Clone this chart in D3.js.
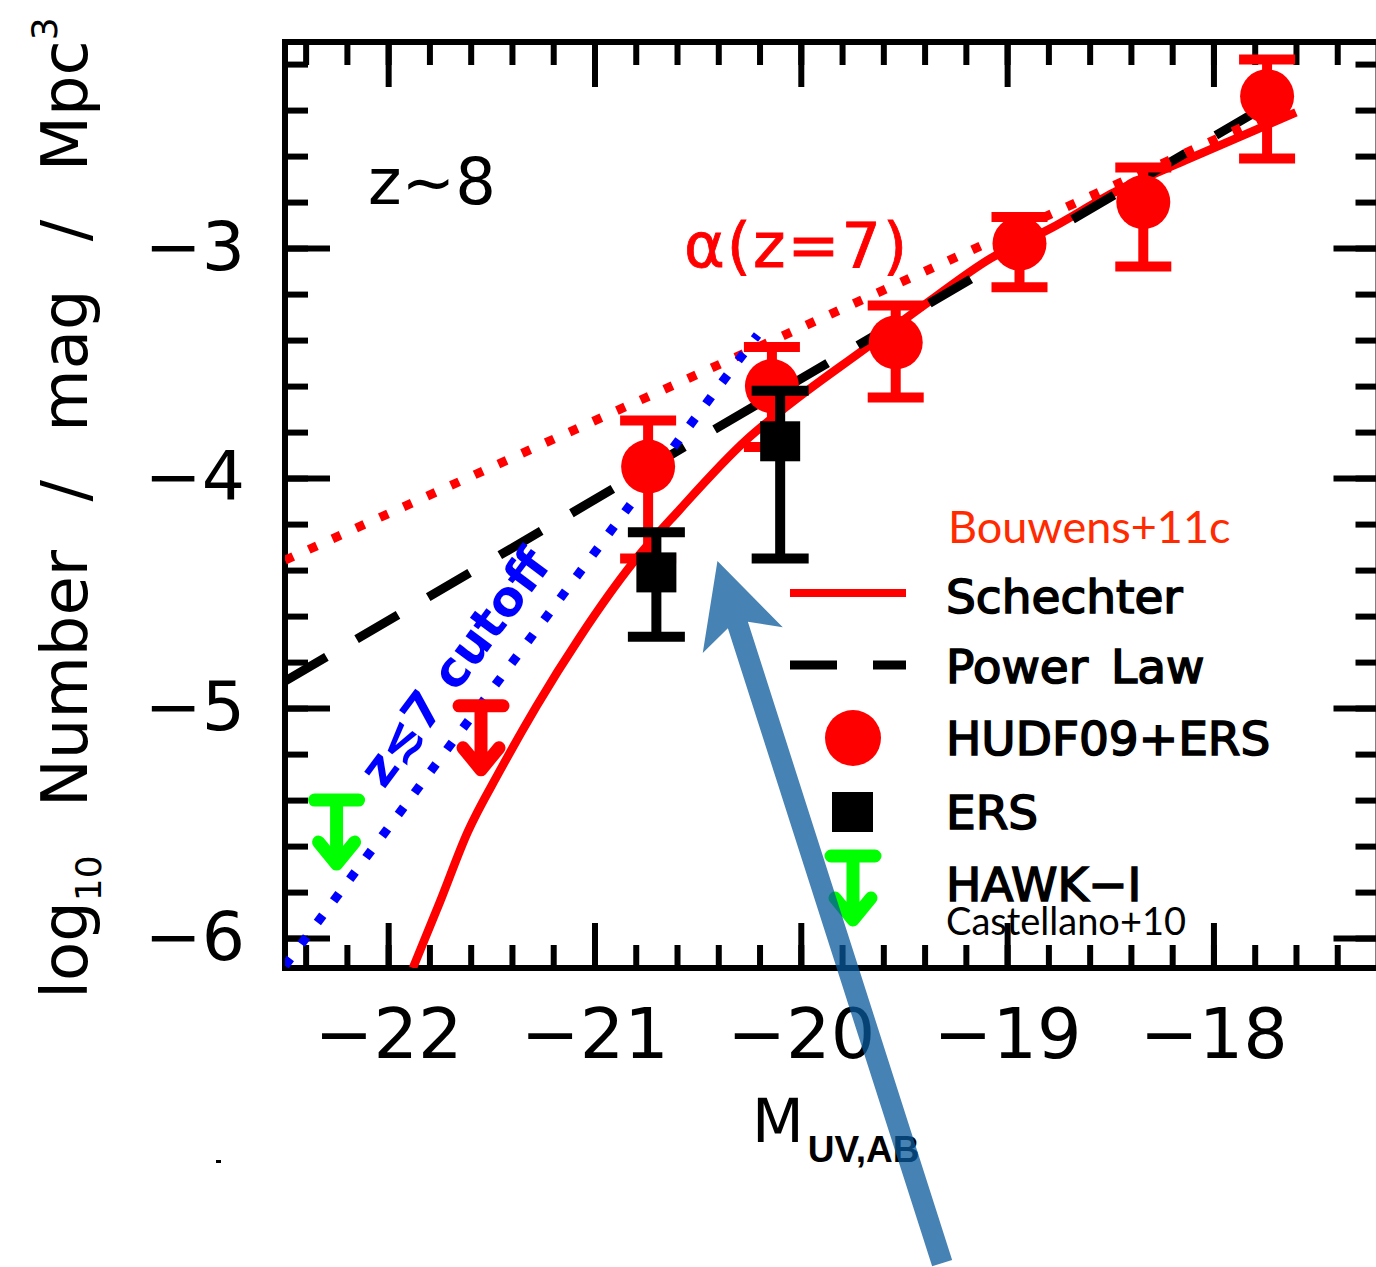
<!DOCTYPE html>
<html lang="en">
<head>
<meta charset="UTF-8">
<title>z~8 UV luminosity function</title>
<style>
  body, html {
      margin: 0;
      padding: 0;
      background-color: #FFF;
  }
  svg { display: block; }
</style>
</head>
<body>
<svg id="chart" width="1376" height="1267" font-family="DejaVu Sans"></svg>

<script src="https://d3js.org/d3.v7.min.js"></script>
<script>
/* global d3 */

// HUDF09+ERS stepwise determinations (log10 phi)
var hudfM    = [-20.74, -20.14, -19.54, -18.94, -18.34, -17.74];
var hudfPhi  = [-3.95, -3.60, -3.41, -2.98, -2.80, -2.34];
var hudfUp   = [-3.75, -3.43, -3.25, -2.865, -2.65, -2.18];
var hudfLow  = [-4.35, -3.865, -3.65, -3.17, -3.08, -2.61];
var hudfLimM   = [-21.55];
var hudfLimPhi = [-4.99];

// ERS only
var ersM   = [-20.70, -20.10];
var ersPhi = [-4.41, -3.84];
var ersUp  = [-4.235, -3.62];
var ersLow = [-4.69, -4.35];

// HAWK-I upper limit (Castellano+10)
var hawkM   = [-22.25];
var hawkPhi = [-5.40];

// fits
var schechterM   = [-21.88, -21.75, -21.615, -21.46, -21.28, -21.07, -20.815, -20.59, -20.265, -20.07, -19.685, -19.39, -19.08, -18.79, -18.465, -18.14, -17.60];
var schechterPhi = [-6.13, -5.845, -5.54, -5.275, -4.99, -4.69, -4.37, -4.14, -3.835, -3.69, -3.435, -3.24, -3.045, -2.915, -2.75, -2.62, -2.41];
var powerM   = [-22.5, -17.65];
var powerPhi = [-4.883, -2.332];
var alpha7M   = [-22.5, -20.1, -17.6];
var alpha7Phi = [-4.357, -3.387, -2.368];
var cutoffM   = [-22.5, -20.21];
var cutoffPhi = [-6.12, -3.378];

// annotation arrow (tip, tail) in data units
var noteArrowM   = [-20.404, -19.315];
var noteArrowPhi = [-4.361, -7.413];

var xTicks = [-22, -21, -20, -19, -18];
var yTicks = [-6, -5, -4, -3];

var svg = d3.select("#chart"),
    pLeft = 285, pRight = 1378.5, pTop = 42, pBottom = 968;

var x = d3.scaleLinear().domain([-22.5, -17.2]).range([pLeft, pRight]),
    y = d3.scaleLinear().domain([-6.13, -2.104]).range([pBottom, pTop]);

var xMinor = d3.range(-112, -86).map(function(i) { return i / 5; }),
    yMinor = d3.range(-30, -10).map(function(i) { return i / 5; });

function zip(a, b) { return a.map(function(d, i) { return [d, b[i]]; }); }

svg.append("defs").append("clipPath").attr("id", "plot")
  .append("rect").attr("x", pLeft).attr("y", pTop)
  .attr("width", pRight - pLeft).attr("height", pBottom - pTop);

// ---- axes (ticks inward on all four sides)
function styleAxis(g) {
  g.select(".domain").remove();
  g.selectAll(".tick line").attr("stroke", "#000").attr("stroke-width", 6);
}

svg.append("g").attr("transform", "translate(0," + pBottom + ")")
  .call(d3.axisBottom(x).tickValues(xMinor).tickSize(-23).tickFormat(""))
  .call(styleAxis);
svg.append("g").attr("transform", "translate(0," + pBottom + ")")
  .call(d3.axisBottom(x).tickValues(xTicks).tickSize(-45).tickPadding(40).tickFormat(d3.format("d")))
  .call(styleAxis)
  .call(function(g) { g.attr("font-size", 70).attr("font-family", "DejaVu Sans"); })
  .selectAll("text").attr("fill", "#000");

svg.append("g").attr("transform", "translate(0," + pTop + ")")
  .call(d3.axisTop(x).tickValues(xMinor).tickSize(-23).tickFormat(""))
  .call(styleAxis);
svg.append("g").attr("transform", "translate(0," + pTop + ")")
  .call(d3.axisTop(x).tickValues(xTicks).tickSize(-45).tickFormat(""))
  .call(styleAxis);

svg.append("g").attr("transform", "translate(" + pLeft + ",0)")
  .call(d3.axisLeft(y).tickValues(yMinor).tickSize(-23).tickFormat(""))
  .call(styleAxis);
svg.append("g").attr("transform", "translate(" + pLeft + ",0)")
  .call(d3.axisLeft(y).tickValues(yTicks).tickSize(-45).tickPadding(40).tickFormat(d3.format("d")))
  .call(styleAxis)
  .call(function(g) { g.attr("font-size", 68).attr("font-family", "DejaVu Sans"); })
  .selectAll("text").attr("fill", "#000");

svg.append("g").attr("transform", "translate(" + pRight + ",0)")
  .call(d3.axisRight(y).tickValues(yMinor).tickSize(-23).tickFormat(""))
  .call(styleAxis);
svg.append("g").attr("transform", "translate(" + pRight + ",0)")
  .call(d3.axisRight(y).tickValues(yTicks).tickSize(-45).tickFormat(""))
  .call(styleAxis);

svg.append("rect")
  .attr("x", pLeft).attr("y", pTop)
  .attr("width", pRight - pLeft).attr("height", pBottom - pTop)
  .attr("fill", "none").attr("stroke", "#000").attr("stroke-width", 6);

// ---- fitted curves
var line = d3.line().x(function(d) { return x(d[0]); }).y(function(d) { return y(d[1]); });
var lines = svg.append("g").attr("clip-path", "url(#plot)");

lines.append("path")
  .attr("d", line.curve(d3.curveMonotoneX)(zip(schechterM, schechterPhi)))
  .attr("fill", "none").attr("stroke", "#F00").attr("stroke-width", 8.5);
line.curve(d3.curveLinear);

lines.append("path")
  .attr("d", line(zip(powerM, powerPhi)))
  .attr("fill", "none").attr("stroke", "#000").attr("stroke-width", 9)
  .attr("stroke-dasharray", "48,35");

lines.append("path")
  .attr("d", line(zip(alpha7M, alpha7Phi)))
  .attr("fill", "none").attr("stroke", "#F00").attr("stroke-width", 9)
  .attr("stroke-dasharray", "9,17");

lines.append("path")
  .attr("d", line(zip(cutoffM, cutoffPhi)))
  .attr("fill", "none").attr("stroke", "#00F").attr("stroke-width", 9)
  .attr("stroke-dasharray", "9,18");

// ---- data points
function errorBars(g, M, lo, hi, color, cap) {
  M.forEach(function(m, i) {
    var cx = x(m);
    g.append("path")
      .attr("d", "M" + cx + "," + y(lo[i]) + "V" + y(hi[i]) +
                 "M" + (cx - cap / 2) + "," + y(lo[i]) + "H" + (cx + cap / 2) +
                 "M" + (cx - cap / 2) + "," + y(hi[i]) + "H" + (cx + cap / 2))
      .attr("stroke", color).attr("stroke-width", 10).attr("fill", "none");
  });
}

function limitArrow(g, cx, cy, color) {
  g.append("path")
    .attr("d", "M" + (cx - 22) + "," + cy + "H" + (cx + 22) +
               "M" + cx + "," + cy + "V" + (cy + 64) +
               "M" + (cx - 18) + "," + (cy + 42) + "L" + cx + "," + (cy + 64) + "L" + (cx + 18) + "," + (cy + 42))
    .attr("stroke", color).attr("stroke-width", 13).attr("fill", "none")
    .attr("stroke-linecap", "round").attr("stroke-linejoin", "round");
}

var pts = svg.append("g");
errorBars(pts, hudfM, hudfLow, hudfUp, "#F00", 56);
pts.selectAll("circle.hudf").data(zip(hudfM, hudfPhi)).enter()
  .append("circle").attr("class", "hudf")
  .attr("cx", function(d) { return x(d[0]); })
  .attr("cy", function(d) { return y(d[1]); })
  .attr("r", 27).attr("fill", "#F00");
hudfLimM.forEach(function(m, i) { limitArrow(pts, x(m), y(hudfLimPhi[i]), "#F00"); });
hawkM.forEach(function(m, i) { limitArrow(pts, x(m), y(hawkPhi[i]), "#0F0"); });

errorBars(pts, ersM, ersLow, ersUp, "#000", 57);
pts.selectAll("rect.ers").data(zip(ersM, ersPhi)).enter()
  .append("rect").attr("class", "ers")
  .attr("x", function(d) { return x(d[0]) - 20; })
  .attr("y", function(d) { return y(d[1]) - 20; })
  .attr("width", 40).attr("height", 40).attr("fill", "#000");

// ---- labels inside the plot
svg.append("text").attr("x", 368).attr("y", 204)
  .attr("font-size", 64).attr("fill", "#000").text("z~8");

svg.append("text").attr("x", 684).attr("y", 267)
  .attr("font-size", 62).attr("fill", "#F00")
  .attr("stroke", "#F00").attr("stroke-width", 0.8)
  .attr("letter-spacing", 2).text("α(z=7)");

svg.append("text").attr("transform", "translate(384,790) rotate(-53.2)")
  .attr("font-size", 49).attr("font-weight", "bold").attr("fill", "#00F")
  .text("z≲7 cutoff");

// ---- legend
var lg = svg.append("g");
lg.append("text").attr("x", 948).attr("y", 543)
  .attr("font-family", "Lato").attr("font-size", 45).attr("fill", "#FF2A00").text("Bouwens+11c");

var legendRows = [
  {label: "Schechter", y: 613},
  {label: "Power Law", y: 683},
  {label: "HUDF09+ERS", y: 755},
  {label: "ERS", y: 829},
  {label: "HAWK\u2212I", y: 901}
];
lg.selectAll("text.row").data(legendRows).enter()
  .append("text").attr("class", "row")
  .attr("x", 946).attr("y", function(d) { return d.y; })
  .attr("font-size", 47).attr("fill", "#000")
  .attr("stroke", "#000").attr("stroke-width", 1.6)
  .attr("word-spacing", 8)
  .text(function(d) { return d.label; });

lg.append("text").attr("x", 946).attr("y", 935)
  .attr("font-family", "Lato").attr("font-size", 38).attr("fill", "#000").text("Castellano+10");

lg.append("line").attr("x1", 790).attr("x2", 906).attr("y1", 593).attr("y2", 593)
  .attr("stroke", "#F00").attr("stroke-width", 8);
lg.append("line").attr("x1", 790).attr("x2", 906).attr("y1", 665).attr("y2", 665)
  .attr("stroke", "#000").attr("stroke-width", 9).attr("stroke-dasharray", "47,36");
lg.append("circle").attr("cx", 853).attr("cy", 738).attr("r", 28).attr("fill", "#F00");
lg.append("rect").attr("x", 832).attr("y", 792).attr("width", 41).attr("height", 40).attr("fill", "#000");
limitArrow(lg, 853, 856, "#0F0");

// ---- axis titles
var xt = svg.append("text").attr("x", 752).attr("y", 1142).attr("font-size", 60).attr("fill", "#000");
xt.append("tspan").text("M");
xt.append("tspan").attr("dy", 20).attr("dx", 4)
  .attr("font-family", "Liberation Sans").attr("font-weight", "bold").attr("font-size", 37)
  .text("UV,AB");

var yt = svg.append("text").attr("transform", "translate(87,508) rotate(-90)")
  .attr("text-anchor", "middle").attr("font-size", 64).attr("fill", "#000")
  .attr("word-spacing", 28);
yt.append("tspan").text("log");
yt.append("tspan").attr("font-size", 36).attr("dy", 14).text("10");
yt.append("tspan").attr("dy", -14).text(" Number / mag / Mpc");
yt.append("tspan").attr("font-size", 36).attr("dy", -30).text("3");

svg.append("rect").attr("x", 216).attr("y", 1160).attr("width", 5).attr("height", 3).attr("fill", "#000");

// ---- blue annotation arrow, drawn over everything
(function() {
  var tx = x(noteArrowM[0]), ty = y(noteArrowPhi[0]),
      bx = x(noteArrowM[1]), by = y(noteArrowPhi[1]);
  var len = Math.hypot(tx - bx, ty - by),
      ux = (tx - bx) / len, uy = (ty - by) / len,   // towards the tip
      nx = -uy, ny = ux;                           // perpendicular
  function p(back, side) { return [tx - ux * back + nx * side, ty - uy * back + ny * side]; }
  var shaft = 10.5;
  var poly = [p(0, 0), p(83, 42), p(67, shaft), [bx + nx * shaft, by + ny * shaft],
              [bx - nx * shaft, by - ny * shaft], p(67, -shaft), p(83, -42)];
  svg.append("path")
    .attr("d", "M" + poly.map(function(q) { return q.join(","); }).join("L") + "Z")
    .attr("fill", "#08589B").attr("fill-opacity", 0.75);
})();
</script>
</body>
</html>
